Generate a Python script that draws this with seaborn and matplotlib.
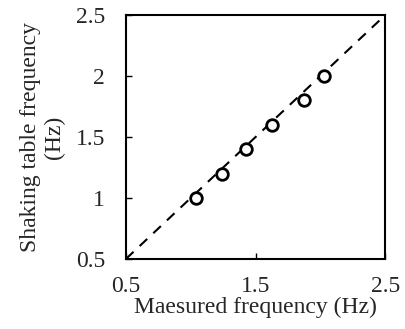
import matplotlib
matplotlib.use('Agg')
import matplotlib.pyplot as plt
import seaborn as sns
import pandas as pd

measured = [1.04, 1.24, 1.43, 1.63, 1.87, 2.03]
table = [1.0, 1.2, 1.4, 1.6, 1.8, 2.0]
line_x = [0.5, 2.5]
line_y = [0.5, 2.5]

sns.set_style('ticks')
plt.rcParams['font.family'] = ['Liberation Serif', 'DejaVu Serif']

df = pd.DataFrame({'measured': measured, 'table': table})
fig = plt.figure(figsize=(4.05, 3.29), dpi=100)
ax = fig.add_axes([0.311, 0.213, 0.640, 0.741])

ax.plot(line_x, line_y, color='black', linestyle=(0, (5, 4)), linewidth=1.5, zorder=1)
sns.scatterplot(data=df, x='measured', y='table', ax=ax, marker='o', s=70,
                facecolor='white', edgecolor='black', linewidth=2, zorder=3)

ax.set_xlim(0.5, 2.5)
ax.set_ylim(0.5, 2.5)
ax.set_xticks([0.5, 1.5, 2.5])
ax.set_xticklabels(['0.5', '1.5', '2.5'])
ax.set_yticks([0.5, 1, 1.5, 2, 2.5])
ax.set_yticklabels(['0.5', '1', '1.5', '2', '2.5'])
ax.tick_params(direction='in', length=4, width=1, labelsize=17, color='black')
ax.tick_params(axis='x', pad=12)
ax.tick_params(axis='y', pad=15)
for s in ax.spines.values():
    s.set_linewidth(1.5)
    s.set_color('black')

ax.set_xlabel('Maesured frequency (Hz)', fontsize=17, labelpad=0)
ax.set_ylabel('Shaking table frequency\n(Hz)', fontsize=17, labelpad=8, linespacing=1.15)

fig.savefig('out.png', dpi=100)
